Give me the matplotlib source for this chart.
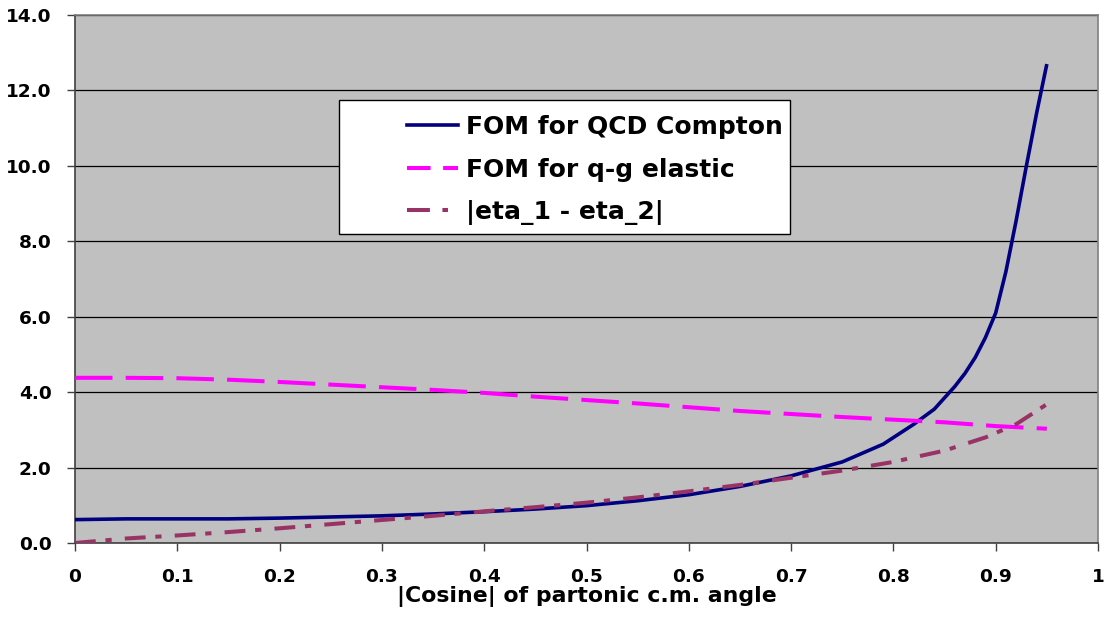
import matplotlib
matplotlib.use("Agg")
import matplotlib.pyplot as plt
from matplotlib.lines import Line2D
from matplotlib.patches import Rectangle

plt.rcParams['font.family'] = ['DejaVu Sans']
plt.rcParams['font.weight'] = 'bold'
plt.rcParams['lines.scale_dashes'] = False

# data
x_compton = [0.0, 0.05, 0.1, 0.15, 0.2, 0.25, 0.3, 0.35, 0.4, 0.45, 0.5, 0.55, 0.6,
             0.65, 0.7, 0.75, 0.79, 0.82, 0.84, 0.85, 0.86, 0.87, 0.88, 0.89, 0.9,
             0.91, 0.92, 0.93, 0.94, 0.95]
y_compton = [0.62, 0.64, 0.64, 0.64, 0.66, 0.69, 0.72, 0.77, 0.83, 0.90, 0.99, 1.12, 1.28,
             1.50, 1.78, 2.15, 2.62, 3.15, 3.55, 3.85, 4.15, 4.50, 4.92, 5.45, 6.10,
             7.20, 8.55, 10.0, 11.4, 12.7]

x_qg = [0.0, 0.05, 0.1, 0.15, 0.2, 0.25, 0.3, 0.35, 0.4, 0.45, 0.5, 0.55, 0.6, 0.65,
        0.7, 0.75, 0.8, 0.85, 0.9, 0.95]
y_qg = [4.38, 4.38, 4.37, 4.33, 4.27, 4.20, 4.13, 4.06, 3.98, 3.88, 3.79, 3.70, 3.60, 3.50,
        3.42, 3.34, 3.27, 3.20, 3.10, 3.03]

x_eta = [0.0, 0.05, 0.1, 0.15, 0.2, 0.25, 0.3, 0.35, 0.4, 0.45, 0.5, 0.55, 0.6, 0.65,
         0.7, 0.75, 0.8, 0.85, 0.89, 0.92, 0.95]
y_eta = [0.0, 0.12, 0.20, 0.29, 0.39, 0.50, 0.61, 0.72, 0.84, 0.95, 1.07, 1.21, 1.37, 1.54,
         1.73, 1.92, 2.15, 2.45, 2.80, 3.15, 3.68]

labels = ['FOM for QCD Compton', 'FOM for q-g elastic', '|eta_1 - eta_2|']
x_ticks = [0, 0.1, 0.2, 0.3, 0.4, 0.5, 0.6, 0.7, 0.8, 0.9, 1]
x_ticklabels = ['0', '0.1', '0.2', '0.3', '0.4', '0.5', '0.6', '0.7', '0.8', '0.9', '1']
y_ticks = [0, 2, 4, 6, 8, 10, 12, 14]
y_ticklabels = ['0.0', '2.0', '4.0', '6.0', '8.0', '10.0', '12.0', '14.0']
xlabel = '|Cosine| of partonic c.m. angle'

W, H = 1104, 633
fig = plt.figure(figsize=(W / 100, H / 100), dpi=100)
ax = fig.add_axes([75 / W, 1 - 543 / H, (1098 - 75) / W, (543 - 15) / H])
ax.set_facecolor('#C0C0C0')

c_comp = '#000080'
c_qg = '#FF00FF'
c_eta = '#993366'

ax.plot(x_compton, y_compton, color=c_comp, lw=2.6, solid_capstyle='butt', zorder=3)
ax.plot(x_qg, y_qg, color=c_qg, lw=2.9, dashes=(27, 9.5), zorder=3)
ax.plot(x_eta, y_eta, color=c_eta, lw=2.9, dashes=(15, 7, 4.5, 9.5), zorder=3)

ax.set_xlim(0, 1)
ax.set_ylim(0, 14)
ax.set_xticks(x_ticks)
ax.set_xticklabels(x_ticklabels)
ax.set_yticks(y_ticks)
ax.set_yticklabels(y_ticklabels)
ax.yaxis.grid(True, color='black', lw=0.9)
ax.set_axisbelow(True)
ax.tick_params(axis='both', labelsize=13.3, direction='out', color='#404040', width=1)
ax.tick_params(axis='y', length=6, pad=11)
ax.tick_params(axis='x', length=6, pad=12)
for s in ax.spines.values():
    s.set_color('#808080')
    s.set_linewidth(1.2)
ax.spines['left'].set_color('#404040')
ax.spines['bottom'].set_color('#404040')
ax.set_xlabel(xlabel, fontsize=15.8, fontweight='bold', labelpad=0)

# legend box
rect = Rectangle((339 / W, 1 - 234 / H), 451 / W, 134 / H, transform=fig.transFigure,
                 facecolor='white', edgecolor='black', lw=1.0, zorder=4)
fig.patches.append(rect)
handles = [Line2D([], [], color=c_comp, lw=2.6),
           Line2D([], [], color=c_qg, lw=2.9, dashes=(17, 9)),
           Line2D([], [], color=c_eta, lw=2.9, dashes=(16.5, 9, 4, 9))]
leg = fig.legend(handles, labels, loc='upper left',
                 bbox_to_anchor=(407 / W, 1 - 115 / H), frameon=False,
                 prop={'size': 18, 'weight': 'bold'}, handlelength=2.05,
                 handletextpad=0.3, labelspacing=0.74, borderpad=0.0,
                 borderaxespad=0.0)
leg.set_zorder(5)

fig.savefig('out.png', dpi=100)
